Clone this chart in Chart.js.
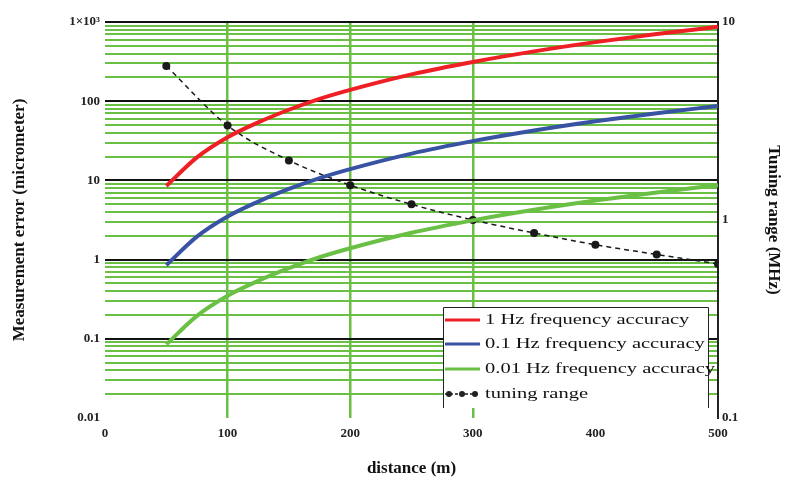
<!DOCTYPE html>
<html>
<head>
<meta charset="utf-8">
<script src="https://cdn.jsdelivr.net/npm/chart.js@4/dist/chart.umd.min.js"></script>
<style>
html, body { margin: 0; padding: 0; background: #fff; }
</style>
</head>
<body>
<canvas id="chart" width="786" height="481"></canvas>
<script>
// distance (m) where the error curves were read
var distance = [50, 75, 100, 125, 150, 175, 200, 250, 300, 350, 400, 450, 500];
// measurement error (micrometer), left axis
var err1Hz   = [8.5, 19.5, 35, 54, 78, 107, 139, 218, 313, 426, 557, 705, 870];
var err01Hz  = [0.85, 1.95, 3.5, 5.4, 7.8, 10.7, 13.9, 21.8, 31.3, 42.6, 55.7, 70.5, 87];
var err001Hz = [0.085, 0.195, 0.35, 0.54, 0.78, 1.07, 1.39, 2.18, 3.13, 4.26, 5.57, 7.05, 8.7];
// tuning range (MHz), right axis
var tuningDist = [50, 100, 150, 200, 250, 300, 350, 400, 450, 500];
var tuningMHz  = [6.0, 3.0, 2.0, 1.5, 1.2, 1.0, 0.86, 0.75, 0.67, 0.6];

// ticks
var xTicks = [0, 100, 200, 300, 400, 500];
var xGridAt = [100, 200, 300];
var errDecades = [0.01, 0.1, 1, 10, 100, 1000];
var errLabels = ['0.01', '0.1', '1', '10', '100', '1\u00d710\u00b3'];
var minorSteps = [2, 3, 4, 5, 6, 7, 8, 9];
var tuneTicks = [0.1, 1, 10];
var tuneLabels = ['0.1', '1', '10'];

var GREEN = '#6abf45';
var RED = '#ee1f25';
var BLUE = '#3853a4';

function pts(xs, ys) {
    var out = [];
    for (var i = 0; i < xs.length; i++) out.push({x: xs[i], y: ys[i]});
    return out;
}

var errTickVals = [];
for (var d = 0; d < errDecades.length; d++) {
    errTickVals.push(errDecades[d]);
    if (d < errDecades.length - 1) {
        for (var m = 0; m < minorSteps.length; m++) errTickVals.push(errDecades[d] * minorSteps[m]);
    }
}

function decadeIndex(v) {
    for (var i = 0; i < errDecades.length; i++) {
        if (Math.abs(v - errDecades[i]) / errDecades[i] < 1e-6) return i;
    }
    return -1;
}

var tickFont = {family: '"Liberation Serif", serif', size: 13, weight: 'bold'};
var titleFont = {family: '"Liberation Serif", serif', size: 17, weight: 'bold'};

// legend drawn inside the plot, like the original
var boxLegend = {
    id: 'boxLegend',
    afterDraw: function(chart) {
        var ctx = chart.ctx;
        var x0 = 443, x1 = 708, y0 = 307, y1 = 408;
        ctx.save();
        ctx.fillStyle = '#fff';
        ctx.fillRect(x0, y0, x1 - x0, y1 - y0);
        ctx.strokeStyle = '#222';
        ctx.lineWidth = 1;
        ctx.beginPath();
        ctx.moveTo(x0 + 0.5, y1);
        ctx.lineTo(x0 + 0.5, y0 + 0.5);
        ctx.lineTo(x1 + 0.5, y0 + 0.5);
        ctx.lineTo(x1 + 0.5, y1);
        ctx.stroke();

        ctx.font = '15px "Liberation Serif", serif';
        var ds = chart.data.datasets;
        var longest = 0;
        for (var i = 0; i < ds.length; i++) longest = Math.max(longest, ctx.measureText(ds[i].label).width);
        var sx = 230 / longest;
        var rows = [320, 344, 369, 394];
        for (var i = 0; i < ds.length; i++) {
            var y = rows[i];
            ctx.strokeStyle = ds[i].borderColor;
            if (i < 3) {
                ctx.lineWidth = 3;
                ctx.setLineDash([]);
                ctx.beginPath();
                ctx.moveTo(445, y);
                ctx.lineTo(480, y);
                ctx.stroke();
            } else {
                ctx.lineWidth = 1.5;
                ctx.setLineDash([3, 2]);
                ctx.beginPath();
                ctx.moveTo(445, y);
                ctx.lineTo(480, y);
                ctx.stroke();
                ctx.setLineDash([]);
                ctx.fillStyle = '#222';
                [449, 462, 475].forEach(function(cx) {
                    ctx.beginPath();
                    ctx.arc(cx, y, 3, 0, Math.PI * 2);
                    ctx.fill();
                });
            }
            ctx.fillStyle = '#111';
            ctx.textBaseline = 'middle';
            ctx.save();
            ctx.translate(485, y);
            ctx.scale(sx, 1);
            ctx.fillText(ds[i].label, 0, 0);
            ctx.restore();
        }
        ctx.restore();
    }
};

new Chart(document.getElementById('chart'), {
    type: 'line',
    data: {
        datasets: [
            {
                label: '1 Hz frequency accuracy',
                data: pts(distance, err1Hz),
                borderColor: RED, borderWidth: 4, pointRadius: 0,
                cubicInterpolationMode: 'monotone', yAxisID: 'y'
            },
            {
                label: '0.1 Hz frequency accuracy',
                data: pts(distance, err01Hz),
                borderColor: BLUE, borderWidth: 4, pointRadius: 0,
                cubicInterpolationMode: 'monotone', yAxisID: 'y'
            },
            {
                label: '0.01 Hz frequency accuracy',
                data: pts(distance, err001Hz),
                borderColor: GREEN, borderWidth: 4, pointRadius: 0,
                cubicInterpolationMode: 'monotone', yAxisID: 'y'
            },
            {
                label: 'tuning range',
                data: pts(tuningDist, tuningMHz),
                borderColor: '#1a1a1a', borderWidth: 1.5, borderDash: [5, 4],
                pointRadius: 4, pointBackgroundColor: '#1a1a1a', pointBorderWidth: 0,
                cubicInterpolationMode: 'monotone', yAxisID: 'y2'
            }
        ]
    },
    options: {
        responsive: false,
        animation: false,
        devicePixelRatio: 1,
        layout: {padding: {top: 22, left: 0, right: 0, bottom: 0}},
        plugins: {legend: {display: false}, tooltip: {enabled: false}},
        scales: {
            x: {
                type: 'linear', min: 0, max: 500,
                afterBuildTicks: function(s) { s.ticks = xTicks.map(function(v) { return {value: v}; }); },
                afterFit: function(s) { s.height = 63; },
                grid: {
                    color: function(c) { return xGridAt.indexOf(c.tick.value) >= 0 ? GREEN : 'rgba(0,0,0,0)'; },
                    lineWidth: 2.5, drawTicks: false
                },
                border: {display: false},
                ticks: {color: '#222', font: tickFont, padding: 8, maxRotation: 0, autoSkip: false},
                title: {display: true, text: 'distance (m)', color: '#111', font: titleFont, padding: {top: 0, bottom: 2}}
            },
            y: {
                type: 'logarithmic', position: 'left', min: 0.01, max: 1000,
                afterBuildTicks: function(s) { s.ticks = errTickVals.map(function(v) { return {value: v}; }); },
                afterFit: function(s) { s.width = 105; },
                grid: {
                    color: function(c) {
                        var i = decadeIndex(c.tick.value);
                        if (i === 0) return 'rgba(0,0,0,0)';
                        return i > 0 ? '#111' : GREEN;
                    },
                    lineWidth: 2, drawTicks: false
                },
                border: {display: false},
                ticks: {
                    color: '#222', font: tickFont, padding: 5, autoSkip: false,
                    callback: function(v) {
                        var i = decadeIndex(v);
                        return i >= 0 ? errLabels[i] : '';
                    }
                },
                title: {display: true, text: 'Measurement error (micrometer)', color: '#111', font: titleFont, padding: {top: 9, bottom: 0}}
            },
            y2: {
                type: 'logarithmic', position: 'right', min: 0.1, max: 10,
                afterBuildTicks: function(s) { s.ticks = tuneTicks.map(function(v) { return {value: v}; }); },
                afterFit: function(s) { s.width = 68; },
                grid: {display: false, drawTicks: false},
                border: {display: true, color: '#222', width: 2},
                ticks: {
                    color: '#222', font: tickFont, padding: 4, autoSkip: false,
                    callback: function(v) {
                        for (var i = 0; i < tuneTicks.length; i++) {
                            if (Math.abs(v - tuneTicks[i]) / tuneTicks[i] < 1e-6) return tuneLabels[i];
                        }
                        return '';
                    }
                },
                title: {display: true, text: 'Tuning range (MHz)', color: '#111', font: titleFont, padding: {top: 2, bottom: 0}}
            }
        }
    },
    plugins: [boxLegend]
});
</script>
</body>
</html>
